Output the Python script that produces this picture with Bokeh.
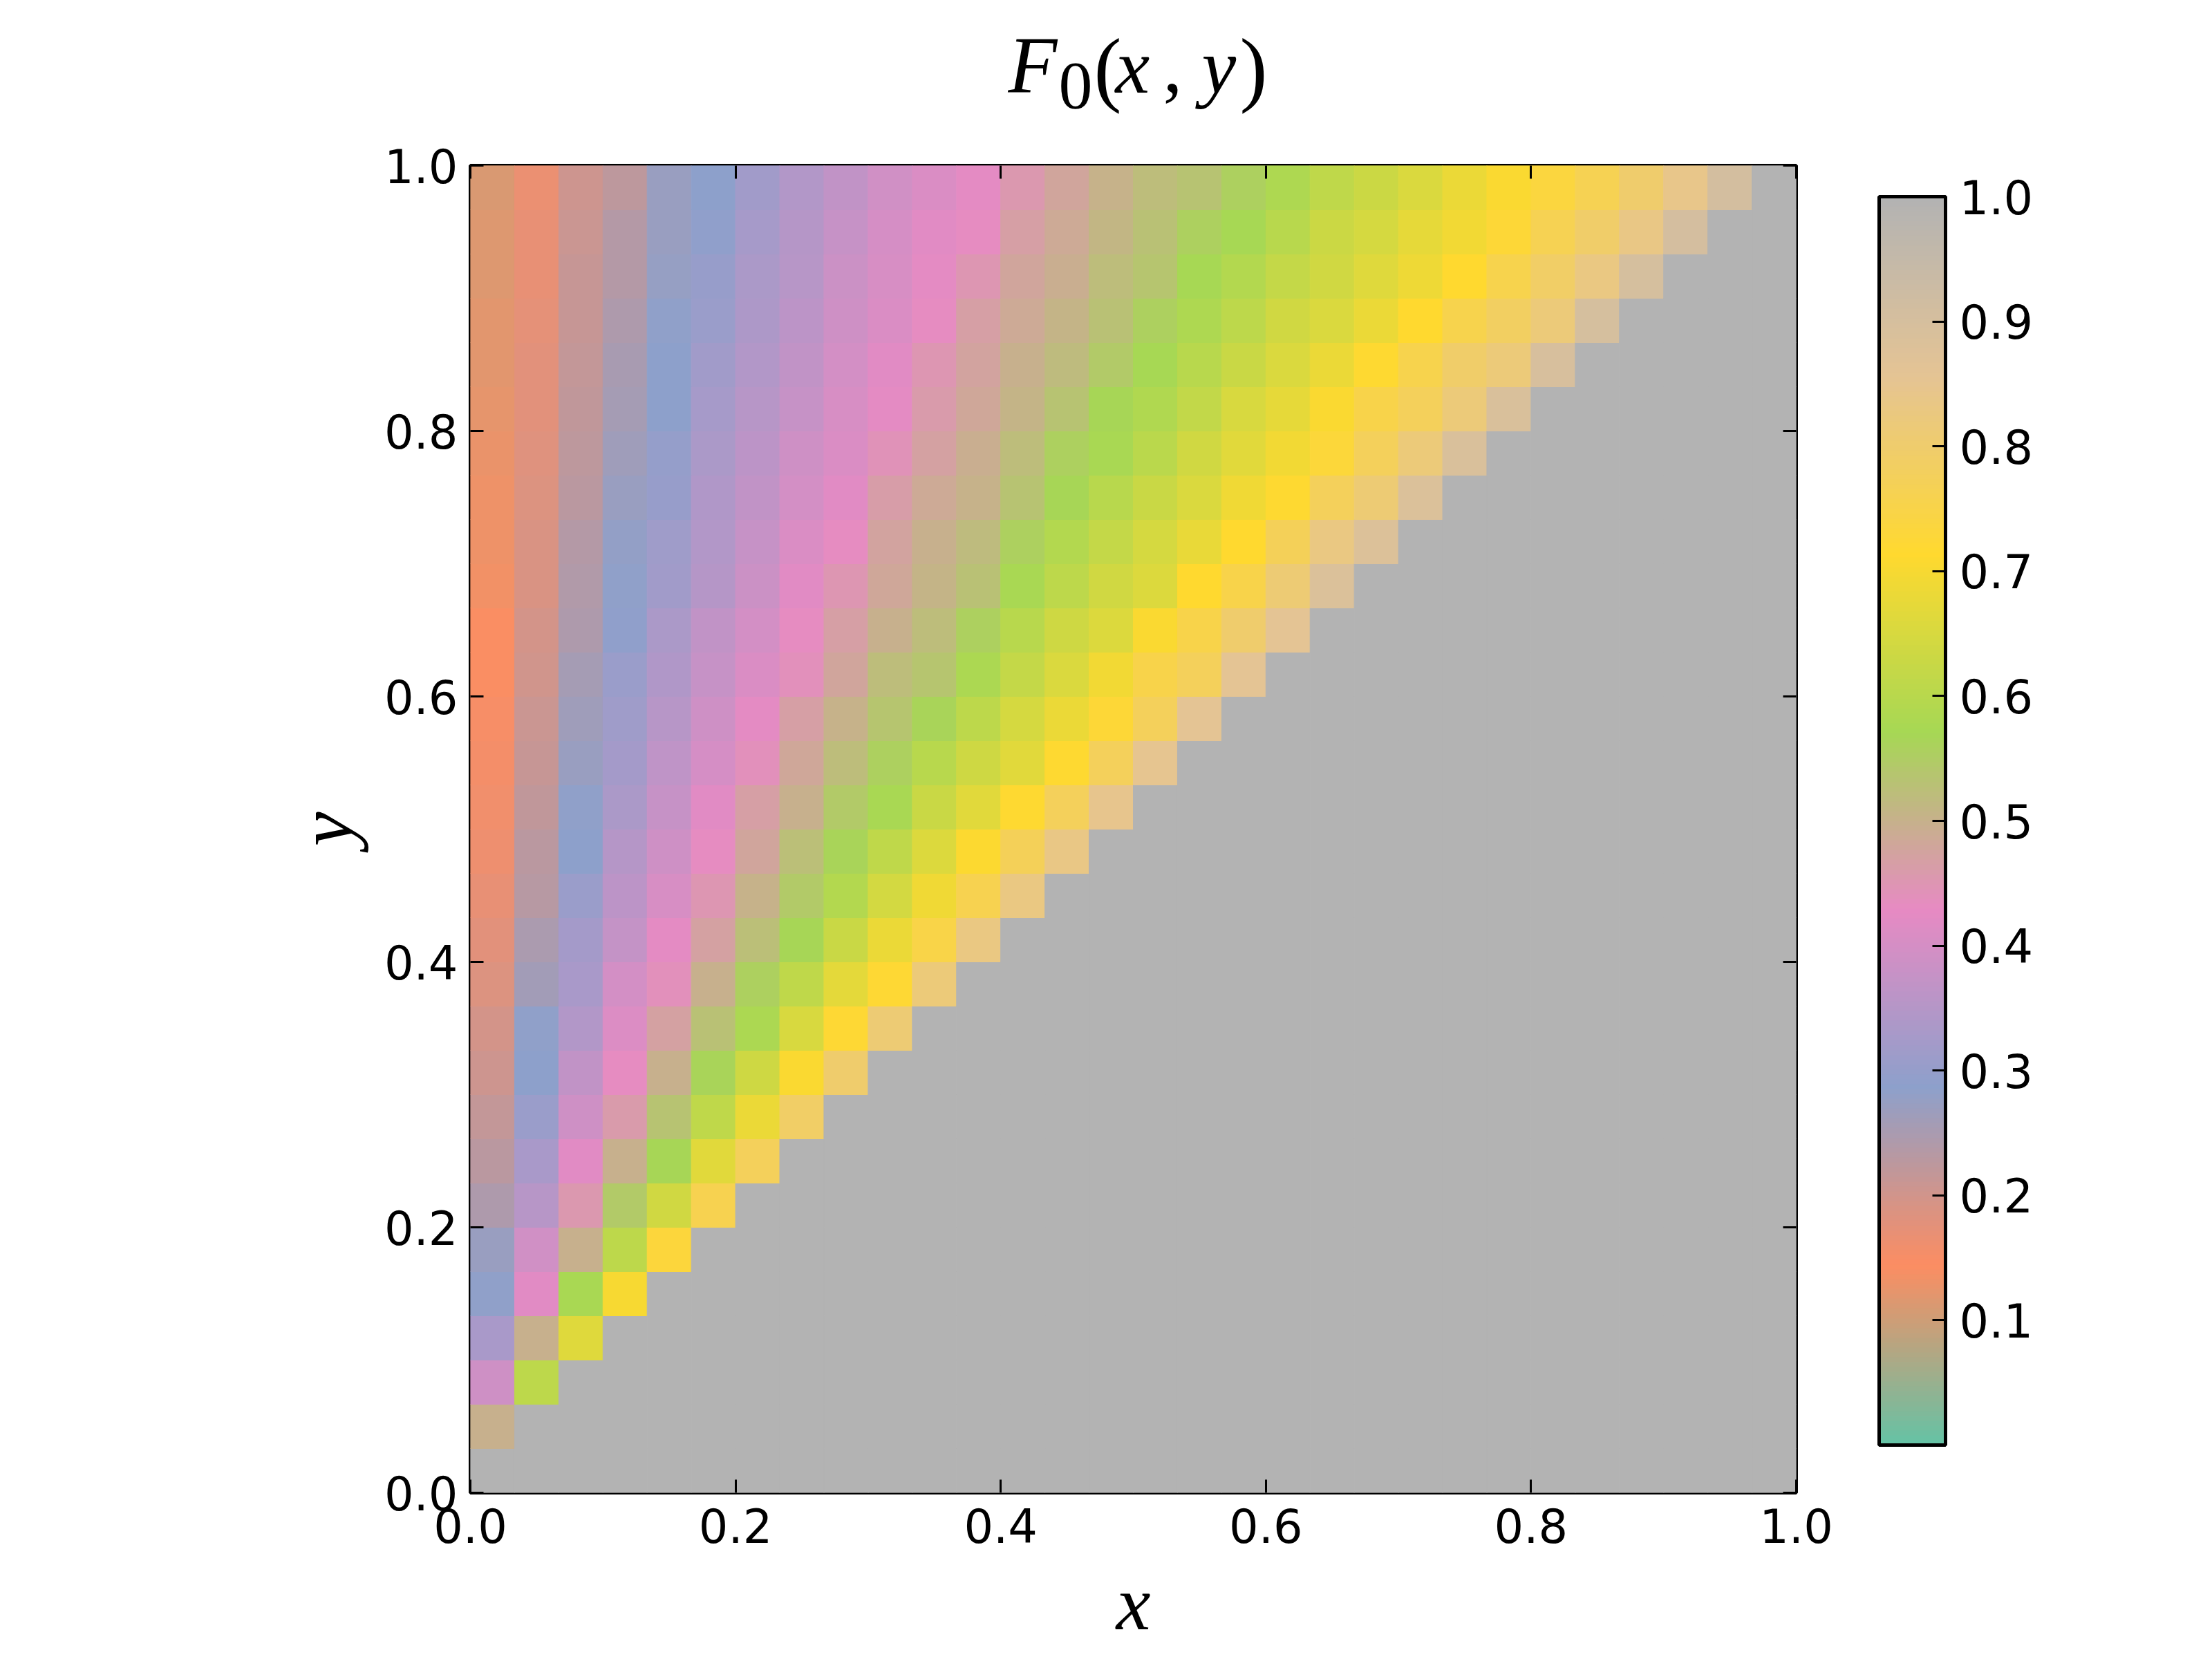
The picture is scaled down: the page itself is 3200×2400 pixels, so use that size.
import numpy as np
from bokeh.plotting import figure
from bokeh.layouts import column
from bokeh.models import (Range1d, LinearAxis, FixedTicker, PrintfTickFormatter,
                          ColorBar, LinearColorMapper, ColumnDataSource,
                          CustomJSTickFormatter)
from bokeh.core.properties import value
from bokeh.embed import file_html
from bokeh.resources import INLINE

# ---------------- data ----------------
# F0 values per grid column i (x cell i of 30); each list runs from row j=i+1 (bottom) to row 29 (top)
c00 = [0.497, 0.39, 0.332, 0.283, 0.27, 0.245, 0.229, 0.215, 0.204, 0.196,
       0.187, 0.176, 0.169, 0.164, 0.158, 0.153, 0.151, 0.143, 0.143,
       0.135, 0.132, 0.13, 0.126, 0.122, 0.121, 0.119, 0.116, 0.116, 0.112]
c01 = [0.607, 0.497, 0.42, 0.392, 0.354, 0.332, 0.306, 0.286, 0.282,
       0.26, 0.247, 0.234, 0.227, 0.222, 0.213, 0.208, 0.202, 0.196,
       0.19, 0.188, 0.184, 0.18, 0.178, 0.176, 0.173, 0.171, 0.17, 0.167]
c02 = [0.664, 0.575, 0.497, 0.457, 0.42, 0.39, 0.37, 0.345,
       0.332, 0.321, 0.306, 0.286, 0.283, 0.272, 0.265, 0.256, 0.245,
       0.24, 0.236, 0.23, 0.225, 0.22, 0.216, 0.214, 0.213, 0.21, 0.205]
c03 = [0.703, 0.607, 0.543, 0.497, 0.46, 0.43, 0.414,
       0.395, 0.373, 0.36, 0.348, 0.334, 0.323, 0.313, 0.305, 0.29,
       0.285, 0.28, 0.27, 0.265, 0.256, 0.25, 0.246, 0.238, 0.236, 0.225]
c04 = [0.731, 0.64, 0.568, 0.535, 0.497, 0.47,
       0.44, 0.425, 0.405, 0.387, 0.375, 0.364, 0.355, 0.342, 0.334,
       0.32, 0.313, 0.303, 0.3, 0.287, 0.286, 0.283, 0.275, 0.272, 0.27]
c05 = [0.76, 0.665, 0.61, 0.565, 0.528,
       0.497, 0.47, 0.453, 0.43, 0.418, 0.4, 0.387, 0.376, 0.37,
       0.35, 0.345, 0.342, 0.335, 0.325, 0.32, 0.308, 0.303, 0.29, 0.286]
c06 = [0.775, 0.683, 0.634, 0.58,
       0.556, 0.525, 0.5, 0.48, 0.465, 0.44, 0.425, 0.41, 0.398,
       0.385, 0.376, 0.37, 0.362, 0.355, 0.345, 0.338, 0.334, 0.325, 0.32]
c07 = [0.79, 0.705, 0.65,
       0.613, 0.568, 0.546, 0.525, 0.497, 0.484, 0.467, 0.44, 0.43,
       0.42, 0.408, 0.395, 0.388, 0.377, 0.37, 0.362, 0.355, 0.348, 0.345]
c08 = [0.8, 0.72,
       0.67, 0.628, 0.592, 0.563, 0.543, 0.522, 0.5, 0.478, 0.468,
       0.45, 0.43, 0.418, 0.41, 0.405, 0.395, 0.39, 0.383, 0.377, 0.37]
c09 = [0.81,
       0.72, 0.68, 0.643, 0.611, 0.575, 0.556, 0.536, 0.52, 0.497,
       0.484, 0.473, 0.462, 0.445, 0.425, 0.42, 0.41, 0.405, 0.4, 0.393]
c10 = [0.82, 0.748, 0.69, 0.657, 0.625, 0.6, 0.565, 0.538, 0.52,
       0.506, 0.497, 0.485, 0.47, 0.46, 0.452, 0.433, 0.425, 0.418, 0.41]
c11 = [0.83, 0.758, 0.71, 0.665, 0.635, 0.606, 0.58, 0.555,
       0.53, 0.516, 0.5, 0.495, 0.484, 0.476, 0.466, 0.452, 0.43, 0.425]
c12 = [0.83, 0.77, 0.715, 0.667, 0.645, 0.62, 0.6,
       0.575, 0.555, 0.535, 0.52, 0.507, 0.497, 0.488, 0.48, 0.467, 0.457]
c13 = [0.835, 0.775, 0.715, 0.68, 0.655, 0.633,
       0.607, 0.59, 0.57, 0.555, 0.532, 0.518, 0.505, 0.495, 0.488, 0.478]
c14 = [0.845, 0.775, 0.725, 0.695, 0.66,
       0.638, 0.62, 0.6, 0.575, 0.567, 0.543, 0.53, 0.52, 0.508, 0.5]
c15 = [0.85, 0.775, 0.752, 0.705,
       0.66, 0.645, 0.625, 0.605, 0.588, 0.572, 0.555, 0.536, 0.53, 0.52]
c16 = [0.857, 0.775, 0.752,
       0.714, 0.677, 0.655, 0.637, 0.617, 0.6, 0.585, 0.572, 0.555, 0.535]
c17 = [0.857, 0.8,
       0.752, 0.714, 0.688, 0.665, 0.65, 0.628, 0.607, 0.593, 0.571, 0.558]
c18 = [0.857,
       0.81, 0.77, 0.718, 0.695, 0.675, 0.655, 0.638, 0.62, 0.6, 0.585]
c19 = [0.886, 0.83, 0.775, 0.73, 0.705, 0.68, 0.655, 0.64, 0.63, 0.612]
c20 = [0.88, 0.81, 0.775, 0.75, 0.715, 0.68, 0.662, 0.648, 0.632]
c21 = [0.885, 0.82, 0.775, 0.757, 0.714, 0.685, 0.672, 0.655]
c22 = [0.89, 0.82, 0.795, 0.757, 0.714, 0.695, 0.68]
c23 = [0.89, 0.82, 0.785, 0.755, 0.725, 0.705]
c24 = [0.895, 0.82, 0.79, 0.765, 0.735]
c25 = [0.9, 0.83, 0.795, 0.765]
c26 = [0.9, 0.835, 0.8]
c27 = [0.905, 0.84]
c28 = [0.91]
lower_value = 1.0          # value in the region y <= x (drawn grey)
n_cells = 30

axis_ticks = [0.0, 0.2, 0.4, 0.6, 0.8, 1.0]
cbar_ticks = [0.1, 0.2, 0.3, 0.4, 0.5, 0.6, 0.7, 0.8, 0.9, 1.0]

set2 = ["#66c2a5", "#fc8d62", "#8da0cb", "#e78ac3",
        "#a6d854", "#ffd92f", "#e5c494", "#b3b3b3"]

# ---------------- colormap (Set2, linearly interpolated) ----------------
def _rgb(h):
    return [int(h[k:k + 2], 16) for k in (1, 3, 5)]

palette = []
for k in range(256):
    t = k / 255 * (len(set2) - 1)
    a = min(int(t), len(set2) - 2)
    f = t - a
    c0, c1 = _rgb(set2[a]), _rgb(set2[a + 1])
    palette.append("#%02x%02x%02x" % tuple(int(round(c0[m] + (c1[m] - c0[m]) * f)) for m in range(3)))

mapper = LinearColorMapper(palette=palette, low=0.0, high=1.0)

# ---------------- grid ----------------
columns = [c00, c01, c02, c03, c04, c05, c06, c07, c08, c09, c10, c11, c12, c13, c14,
           c15, c16, c17, c18, c19, c20, c21, c22, c23, c24, c25, c26, c27, c28]
edges = np.linspace(0.0, 1.0, n_cells + 1)
L, R, B, T, V = [], [], [], [], []
for i in range(n_cells):
    for j in range(n_cells):
        if i < len(columns) and j > i:
            v = columns[i][j - i - 1]
        else:
            v = lower_value
        L.append(edges[i]); R.append(edges[i + 1])
        B.append(edges[j]); T.append(edges[j + 1])
        V.append(v)
src = ColumnDataSource(dict(left=L, right=R, bottom=B, top=T, v=V))

W = 3192
FRAME_L, FRAME_W, FRAME_H = 680, 1918, 1920
BORDER_R = W - FRAME_L - FRAME_W
TITLE_H = 200

# ---------------- title strip:  F_0(x, y) ----------------
tp = figure(frame_width=FRAME_W, frame_height=TITLE_H,
            x_range=Range1d(FRAME_L, FRAME_L + FRAME_W), y_range=Range1d(TITLE_H, 0),
            output_backend="svg", toolbar_location=None,
            x_axis_location=None, y_axis_location=None,
            min_border_left=FRAME_L, min_border_right=BORDER_R,
            min_border_top=0, min_border_bottom=0, outline_line_color=None,
            background_fill_color="white", border_fill_color="white")
tp.grid.visible = False
title_parts = [
    ("F", 1458, 93, "italic", "116px"),
    ("0", 1531, 123, "normal", "98px"),
    ("(", 1582, 98, "normal", "120px"),
    ("x", 1613, 95, "italic", "112px"),
    (",", 1682, 95, "normal", "112px"),
    ("y", 1738, 95, "italic", "112px"),
    (")", 1793, 98, "normal", "120px"),
]
for txt, tx, ty, style, size in title_parts:
    tp.text(x=[tx], y=[ty], text=[txt], text_font=value("Liberation Serif"),
            text_font_style=value(style), text_font_size=value(size), text_color="black",
            text_align="left", text_baseline="alphabetic")

# ---------------- main figure ----------------
p = figure(frame_width=FRAME_W, frame_height=FRAME_H,
           x_range=Range1d(0, 1), y_range=Range1d(0, 1),
           output_backend="svg", toolbar_location=None,
           min_border_left=FRAME_L, min_border_right=BORDER_R,
           min_border_top=239 - TITLE_H, min_border_bottom=233,
           background_fill_color="white", border_fill_color="white")
p.grid.visible = False
p.outline_line_color = "black"
p.outline_line_width = 5
p.outline_line_alpha = 1.0

cmap_field = {"field": "v", "transform": mapper}
p.quad(left="left", right="right", bottom="bottom", top="top", source=src,
       fill_color=cmap_field, line_color=cmap_field, line_width=1)

def style_axis(ax, labels=True):
    ax.ticker = FixedTicker(ticks=axis_ticks)
    ax.axis_line_color = None
    ax.major_tick_in = 19
    ax.major_tick_out = 0
    ax.major_tick_line_width = 3
    ax.major_tick_line_color = "black"
    ax.minor_tick_line_color = None
    if labels:
        ax.formatter = PrintfTickFormatter(format="%.1f")
        ax.major_label_text_font = "DejaVu Sans"
        ax.major_label_text_font_size = "67px"
        ax.major_label_text_color = "black"
    else:
        ax.formatter = CustomJSTickFormatter(code="return ''")
        ax.major_label_standoff = 0

xa = p.xaxis[0]
ya = p.yaxis[0]
style_axis(xa)
style_axis(ya)
xa.major_label_standoff = 22
ya.major_label_standoff = 18

for ax, txt in ((xa, "x"), (ya, "y")):
    ax.axis_label = txt
    ax.axis_label_text_font = "Liberation Serif"
    ax.axis_label_text_font_style = "italic"
    ax.axis_label_text_font_size = "112px"
    ax.axis_label_text_color = "black"
xa.axis_label_standoff = 22
ya.axis_label_standoff = 20

top_ax = LinearAxis()
style_axis(top_ax, labels=False)
p.add_layout(top_ax, "above")
right_ax = LinearAxis()
style_axis(right_ax, labels=False)
p.add_layout(right_ax, "right")

cb = ColorBar(color_mapper=mapper, ticker=FixedTicker(ticks=cbar_ticks),
              formatter=PrintfTickFormatter(format="%.1f"),
              width=96, height=1806, location=(120, 69), margin=0, padding=0,
              major_label_text_font="DejaVu Sans", major_label_text_font_size="67px",
              major_label_text_color="black", label_standoff=20,
              major_tick_in=19, major_tick_out=0, major_tick_line_color="black",
              major_tick_line_width=3, minor_tick_line_color=None,
              bar_line_color="black", bar_line_width=5,
              border_line_color=None, background_fill_color=None)
p.add_layout(cb, "right")

layout = column(tp, p, spacing=0)
open("out.html", "w").write(file_html(layout, INLINE))
